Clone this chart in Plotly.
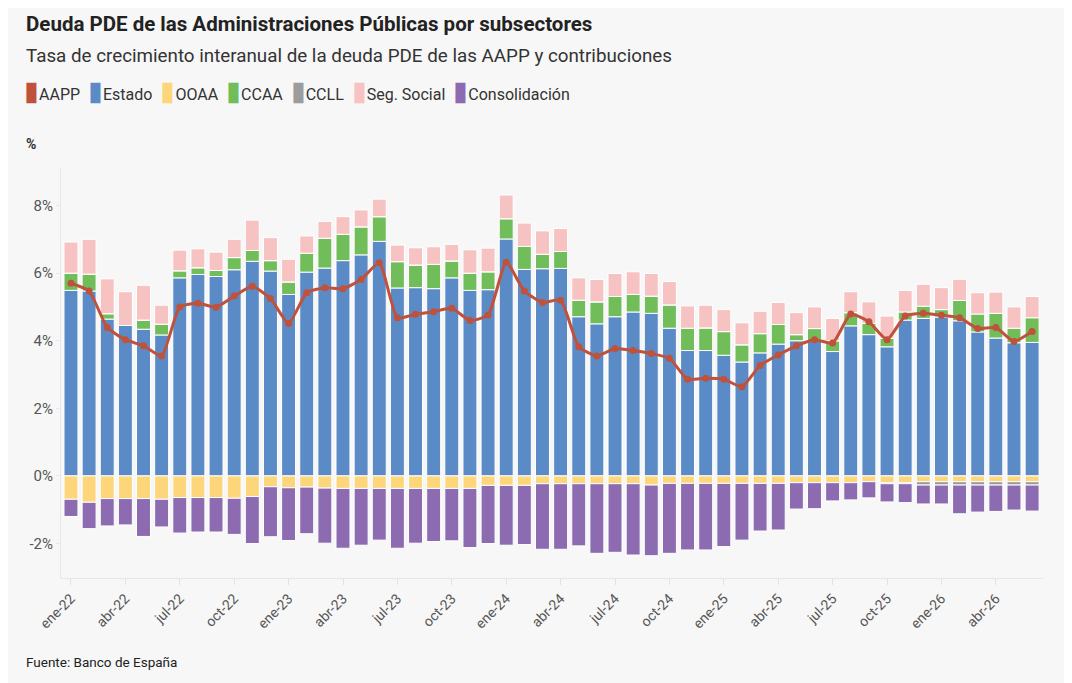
from plotly import graph_objects as go

# months ene-22 .. jun-26
meses = ['ene', 'feb', 'mar', 'abr', 'may', 'jun', 'jul', 'ago', 'sep', 'oct', 'nov', 'dic']
periodos = [f'{m}-{a}' for a in ['22', '23', '24', '25', '26'] for m in meses][:54]

estado = [5.49, 5.47, 4.64, 4.45, 4.34, 4.17, 5.86, 5.96, 5.90, 6.10, 6.35, 6.06,
          5.37, 6.03, 6.15, 6.37, 6.54, 6.94, 5.56, 5.57, 5.54, 5.86, 5.49, 5.51,
          7.01, 6.11, 6.13, 6.14, 4.71, 4.50, 4.71, 4.85, 4.81, 4.37, 3.71, 3.71,
          3.57, 3.37, 3.64, 3.90, 4.00, 3.99, 3.68, 4.44, 4.18, 3.82, 4.61, 4.66,
          4.70, 4.59, 4.26, 4.08, 3.94, 3.95]
ooaa = [-0.69, -0.78, -0.67, -0.67, -0.67, -0.69, -0.64, -0.64, -0.64, -0.66, -0.61, -0.32,
        -0.35, -0.33, -0.36, -0.37, -0.37, -0.37, -0.37, -0.37, -0.37, -0.37, -0.37, -0.28,
        -0.28, -0.28, -0.23, -0.23, -0.23, -0.23, -0.23, -0.23, -0.27, -0.22, -0.22, -0.22,
        -0.22, -0.22, -0.22, -0.22, -0.20, -0.20, -0.20, -0.20, -0.17, -0.20, -0.20, -0.17,
        -0.17, -0.17, -0.17, -0.17, -0.17, -0.17]
ccaa = [0.51, 0.50, 0.16, 0.00, 0.27, 0.32, 0.21, 0.20, 0.18, 0.36, 0.32, 0.31,
        0.37, 0.56, 0.88, 0.78, 0.83, 0.73, 0.78, 0.67, 0.72, 0.50, 0.51, 0.53,
        0.60, 0.68, 0.43, 0.50, 0.49, 0.65, 0.60, 0.52, 0.51, 0.69, 0.66, 0.67,
        0.70, 0.51, 0.57, 0.58, 0.18, 0.37, 0.32, 0.39, 0.33, 0.25, 0.24, 0.36,
        0.22, 0.60, 0.53, 0.73, 0.43, 0.73]
ccll = [0, 0, 0, 0, 0, 0, 0, 0, 0, 0, 0, 0,
        0, 0, 0, 0, 0, 0, 0, 0, 0, 0, 0, 0,
        0, 0, 0, 0, 0, 0, 0, 0, 0, 0, 0, 0,
        0, 0, 0, 0, 0, 0, 0, 0, 0, -0.03, -0.03, -0.10,
        -0.10, -0.10, -0.10, -0.10, -0.10, -0.10]
seg_social = [0.92, 1.03, 1.03, 1.00, 1.03, 0.56, 0.61, 0.56, 0.54, 0.54, 0.90, 0.68,
              0.67, 0.51, 0.50, 0.52, 0.50, 0.52, 0.49, 0.51, 0.52, 0.49, 0.69, 0.70,
              0.70, 0.69, 0.69, 0.68, 0.66, 0.66, 0.68, 0.67, 0.67, 0.69, 0.66, 0.67,
              0.65, 0.65, 0.66, 0.65, 0.65, 0.64, 0.66, 0.62, 0.64, 0.66, 0.64, 0.65,
              0.65, 0.63, 0.63, 0.63, 0.63, 0.63]
consolidacion = [-0.51, -0.78, -0.81, -0.78, -1.12, -0.82, -1.05, -1.02, -1.02, -1.07, -1.39, -1.48,
                 -1.56, -1.38, -1.63, -1.77, -1.68, -1.53, -1.77, -1.62, -1.57, -1.55, -1.75, -1.72,
                 -1.77, -1.75, -1.94, -1.94, -1.84, -2.06, -2.03, -2.11, -2.09, -2.07, -1.97, -1.97,
                 -1.87, -1.68, -1.41, -1.38, -0.78, -0.77, -0.54, -0.51, -0.48, -0.54, -0.56, -0.56,
                 -0.56, -0.85, -0.80, -0.78, -0.74, -0.77]
aapp = [5.70, 5.47, 4.39, 4.03, 3.85, 3.55, 5.00, 5.11, 4.99, 5.32, 5.61, 5.25,
        4.51, 5.42, 5.57, 5.54, 5.81, 6.31, 4.68, 4.78, 4.86, 4.96, 4.60, 4.76,
        6.32, 5.47, 5.13, 5.20, 3.82, 3.55, 3.77, 3.71, 3.62, 3.48, 2.86, 2.89,
        2.86, 2.64, 3.27, 3.58, 3.85, 4.03, 3.93, 4.79, 4.56, 4.03, 4.73, 4.81,
        4.75, 4.68, 4.36, 4.39, 3.98, 4.27]

y_ticks = [-2, 0, 2, 4, 6, 8]
y_labels = ['-2%', '0%', '2%', '4%', '6%', '8%']

colores = {
    'AAPP': '#c0513b',
    'Estado': '#5b8bc7',
    'OOAA': '#fdd67c',
    'CCAA': '#70bd5a',
    'CCLL': '#9c9c9c',
    'Seg. Social': '#f7c2c2',
    'Consolidación': '#8c6bb1',
}

series = [('Estado', estado), ('OOAA', ooaa), ('CCAA', ccaa),
          ('CCLL', ccll), ('Seg. Social', seg_social), ('Consolidación', consolidacion)]

fig = go.Figure()
for nombre, valores in series:
    fig.add_trace(go.Bar(
        x=periodos, y=valores, name=nombre,
        marker=dict(color=colores[nombre], line=dict(color='white', width=1)),
        showlegend=False,
    ))

fig.add_trace(go.Scatter(
    x=periodos, y=aapp, name='AAPP', mode='lines+markers',
    line=dict(color=colores['AAPP'], width=3, shape='spline', smoothing=0.5),
    marker=dict(color=colores['AAPP'], size=7),
    showlegend=False,
))

# page has an 8px body margin, so the figure is a bit smaller and everything is offset
OFF = 8
W, H = 1072 - OFF, 683 - OFF
L, R, T, B = 61 - OFF, 29, 168 - OFF, 105
pw, ph = W - L - R, H - T - B


def px(x):
    return (x - OFF - L) / pw


def py(y):
    return (H - B - (y - OFF)) / ph


leyenda = '&nbsp;&nbsp;'.join(
    f'<span style="color:{colores[n]};font-size:27px">▮</span>{n}' for n in colores
)

anotaciones = [
    dict(text='<b>Deuda PDE de las Administraciones Públicas por subsectores</b>',
         x=px(24), y=py(24), font=dict(size=20.5, color='#222222')),
    dict(text='Tasa de crecimiento interanual de la deuda PDE de las AAPP y contribuciones',
         x=px(24), y=py(56), font=dict(size=18.8, color='#333333')),
    dict(text=leyenda, x=px(22), y=py(91), font=dict(size=16, color='#333333')),
    dict(text='<b>%</b>', x=px(24), y=py(144), font=dict(size=14, color='#333333')),
    dict(text='Fuente: Banco de España', x=px(24), y=py(662), font=dict(size=13.5, color='#222222')),
]
for a in anotaciones:
    fig.add_annotation(xref='paper', yref='paper', xanchor='left', yanchor='middle',
                       showarrow=False, **a)

fig.update_layout(
    width=W, height=H,
    margin=dict(l=L, r=R, t=T, b=B, pad=0),
    barmode='relative',
    bargap=0.23,
    paper_bgcolor='#f7f7f7',
    plot_bgcolor='#f7f7f7',
    font=dict(family='Roboto, Arial, sans-serif', color='#555555'),
    showlegend=False,
)
fig.update_xaxes(
    type='category',
    range=[-0.55, 53.6],
    tickvals=periodos[::3],
    ticktext=periodos[::3],
    tickangle=-45,
    tickfont=dict(size=14, color='#555555'),
    ticks='outside', ticklen=6, tickcolor='#e2e2e2',
    showline=True, linecolor='#e8e8e8', linewidth=1,
    showgrid=False,
)
fig.update_yaxes(
    range=[-3.02, 9.11],
    tickvals=y_ticks,
    ticktext=y_labels,
    tickfont=dict(size=15, color='#555555'),
    ticks='outside', ticklen=4, tickcolor='#e8e8e8',
    showline=True, linecolor='#e8e8e8', linewidth=1,
    showgrid=False, zeroline=False,
)

fig.write_html('out.html')
